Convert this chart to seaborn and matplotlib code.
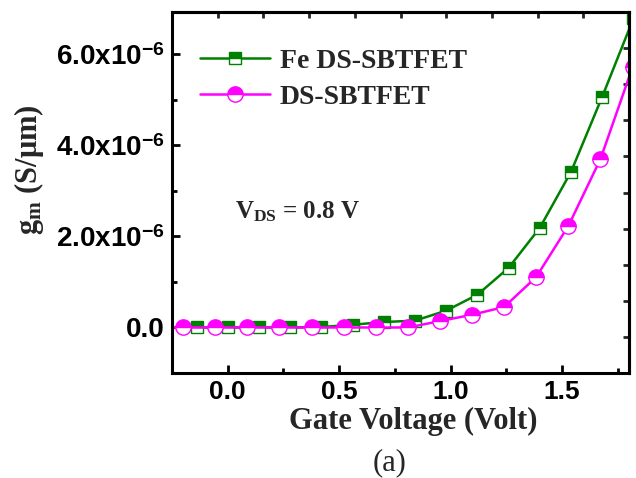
import numpy as np
import pandas as pd
import matplotlib
matplotlib.use("Agg")
import matplotlib.pyplot as plt
from matplotlib.ticker import FixedLocator, MultipleLocator, FuncFormatter
import seaborn as sns

# Transconductance vs gate voltage (gm in units of 1e-6 S/um)
fe_vg = [-0.28, -0.14, 0.0, 0.14, 0.28, 0.42, 0.56, 0.70, 0.84, 0.98, 1.12, 1.26, 1.40, 1.54, 1.68, 1.82]
fe_gm = [0.0, 0.0, 0.0, 0.0, 0.0, 0.01, 0.06, 0.12, 0.15, 0.37, 0.72, 1.31, 2.19, 3.42, 5.07, 6.79]
ds_vg = [-0.344, -0.2, -0.056, 0.088, 0.232, 0.376, 0.52, 0.664, 0.808, 0.952, 1.096, 1.24, 1.384, 1.528, 1.672, 1.816]
ds_gm = [0.0, 0.0, 0.0, 0.0, 0.0, 0.0, 0.0, 0.0, 0.0, 0.14, 0.28, 0.45, 1.11, 2.23, 3.70, 5.72]
series_names = ["Fe DS-SBTFET", "DS-SBTFET"]
series_colors = ["#008000", "#ff00ff"]
x_ticks = [0.0, 0.5, 1.0, 1.5]
y_ticks = [0.0, 2.0e-6, 4.0e-6, 6.0e-6]

sns.set_theme(style="ticks")
plt.rcParams.update({
    "font.family": ["Liberation Sans", "DejaVu Sans"],
    "font.weight": "bold",
    "mathtext.fontset": "custom",
    "mathtext.rm": "Liberation Serif:bold",
    "mathtext.bf": "Liberation Sans:bold",
    "mathtext.it": "Liberation Serif:bold",
    "axes.linewidth": 2.2,
    "axes.edgecolor": "black",
})

fig = plt.figure(figsize=(6.36, 4.78), dpi=100)
ax = fig.add_axes([172 / 636, 1 - 373 / 478, 457 / 636, 361 / 478])

fe = pd.DataFrame({"Vg": fe_vg, "gm": np.array(fe_gm) * 1e-6})
ds = pd.DataFrame({"Vg": ds_vg, "gm": np.array(ds_gm) * 1e-6})

sns.lineplot(data=fe, x="Vg", y="gm", ax=ax, estimator=None, sort=False,
             color=series_colors[0], linewidth=1.8, marker="s", markersize=9,
             fillstyle="top", markerfacecoloralt="white",
             markeredgecolor=series_colors[0], markeredgewidth=1.0,
             label=series_names[0])
sns.lineplot(data=ds, x="Vg", y="gm", ax=ax, estimator=None, sort=False,
             color=series_colors[1], linewidth=1.8, marker="o", markersize=11,
             fillstyle="top", markerfacecoloralt="white",
             markeredgecolor=series_colors[1], markeredgewidth=1.0,
             label=series_names[1])

ax.set_xlim(-0.25, 1.8)
ax.set_ylim(-1.0e-6, 6.93e-6)
ax.set_xlabel("")
ax.set_ylabel("")

ax.xaxis.set_major_locator(FixedLocator(x_ticks))
ax.xaxis.set_minor_locator(MultipleLocator(0.25))
ax.yaxis.set_major_locator(FixedLocator(y_ticks))
ax.yaxis.set_minor_locator(MultipleLocator(1.0e-6))
ax.xaxis.set_major_formatter(FuncFormatter(lambda v, p: f"{v:.1f}"))


def sci_label(v, pos):
    if abs(v) < 1e-12:
        return "0.0"
    return f"{v / 1e-6:.1f}x10" + r"$^{\mathbf{-6}}$"


ax.yaxis.set_major_formatter(FuncFormatter(sci_label))
ax.tick_params(which="major", direction="in", length=6, width=2.0,
               labelsize=20, color="black", labelcolor="black")
ax.tick_params(which="minor", direction="in", length=3.5, width=2.0, color="black")
ax.tick_params(axis="x", which="major", pad=5, labelsize=19)
ax.tick_params(axis="y", which="major", pad=5)
for lab in ax.get_xticklabels() + ax.get_yticklabels():
    lab.set_fontweight("bold")

# Opposite axes carry plain inward ticks dividing each span into ten parts
top = ax.secondary_xaxis("top")
top.set_xticks(np.linspace(-0.25, 1.8, 11))
top.tick_params(direction="in", length=4, width=2.0, labeltop=False)
top.spines["top"].set_linewidth(2.2)
right = ax.secondary_yaxis("right")
right.set_yticks(np.linspace(-1.0e-6, 6.93e-6, 11))
right.tick_params(direction="in", length=4, width=2.0, labelright=False)
right.spines["right"].set_linewidth(2.2)

leg = ax.legend(loc="upper left", bbox_to_anchor=(0.062, 0.9), frameon=False,
                prop={"family": "Liberation Serif", "weight": "bold", "size": 20},
                handlelength=2.5, handletextpad=0.35, labelspacing=0.38,
                borderpad=0, borderaxespad=0)

ax.text(0.138, 0.429, r"V$_{\mathrm{DS}}$ = 0.8 V", transform=ax.transAxes,
        family="Liberation Serif", weight="bold", fontsize=18, va="baseline", ha="left")

fig.text(413 / 636, 1 - 429 / 478, "Gate Voltage (Volt)", family="Liberation Serif",
         weight="bold", fontsize=22, ha="center", va="baseline")
fig.text(390 / 636, 1 - 470 / 478, "(a)", family="Liberation Serif",
         weight="normal", fontsize=22, ha="center", va="baseline")
fig.text(29 / 636, 1 - 170 / 478, r"g$_{\mathrm{m}}$ (S/$\mathrm{\mu}$m)",
         family="Liberation Serif", weight="bold", fontsize=22, rotation=90,
         ha="center", va="center")

fig.savefig("out.png", dpi=100)
